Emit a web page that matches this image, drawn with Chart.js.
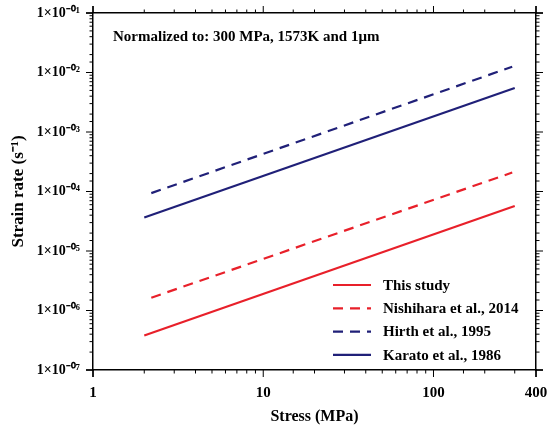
<!DOCTYPE html>
<html>
<head>
<meta charset="utf-8">
<script src="https://cdn.jsdelivr.net/npm/chart.js@4"></script>
<style>
  body { margin: 0; background: #fff; }
  #wrap { width: 550px; height: 430px; }
</style>
</head>
<body>
<div id="wrap"><canvas id="rateChart" width="550" height="430"></canvas></div>
<script>
// values (stress in MPa, strain rate in 1/s)
const seriesNames = ['This study', 'Nishihara et al., 2014', 'Hirth et al., 1995', 'Karato et al., 1986'];
const thisStudyStress = [2, 300];
const thisStudyRate = [3.8e-7, 5.7e-5];
const nishiharaStress = [2.2, 290];
const nishiharaRate = [1.64e-6, 2.08e-4];
const hirthStress = [2.2, 290];
const hirthRate = [9.4e-5, 1.25e-2];
const karatoStress = [2, 300];
const karatoRate = [3.65e-5, 5.5e-3];

const xTickValues = [1, 10, 100, 400];
const yTickExponents = [-7, -6, -5, -4, -3, -2, -1];
const yTickLabels = ['1×10⁻⁰⁷', '1×10⁻⁰⁶', '1×10⁻⁰⁵', '1×10⁻⁰⁴', '1×10⁻⁰³', '1×10⁻⁰²', '1×10⁻⁰¹'];
const note = 'Normalized to: 300 MPa, 1573K and 1μm';

const RED = '#e8202a';
const NAVY = '#202078';
const SERIF = "'Liberation Serif', 'Times New Roman', serif";

function pts(xs, ys) {
  return xs.map((x, i) => ({ x: x, y: ys[i] }));
}

function xLabel(v) {
  return xTickValues.indexOf(v) >= 0 ? String(v) : '';
}

function yLabel(v) {
  const e = Math.log10(v);
  const r = Math.round(e);
  if (Math.abs(e - r) > 1e-6) return '';
  const i = yTickExponents.indexOf(r);
  return i >= 0 ? yTickLabels[i] : '';
}

// outward tick marks on all four sides, longer at labelled values
const tickMarks = {
  id: 'tickMarks',
  afterDraw(chart) {
    const ctx = chart.ctx;
    const a = chart.chartArea;
    ctx.save();
    ctx.strokeStyle = '#000';
    ctx.lineWidth = 1;
    const sides = [
      { id: 'x', lab: v => xLabel(v) !== '' },
      { id: 'x2', lab: v => xLabel(v) !== '' },
      { id: 'y', lab: v => yLabel(v) !== '' },
      { id: 'y2', lab: v => yLabel(v) !== '' }
    ];
    sides.forEach(s => {
      const sc = chart.scales[s.id];
      sc.ticks.forEach(t => {
        const p = sc.getPixelForValue(t.value);
        const len = s.lab(t.value) ? 7 : 3.5;
        ctx.beginPath();
        if (s.id === 'x') { ctx.moveTo(p, sc.top); ctx.lineTo(p, sc.top + len); }
        if (s.id === 'x2') { ctx.moveTo(p, sc.bottom); ctx.lineTo(p, sc.bottom - len); }
        if (s.id === 'y') { ctx.moveTo(sc.right, p); ctx.lineTo(sc.right - len, p); }
        if (s.id === 'y2') { ctx.moveTo(sc.left, p); ctx.lineTo(sc.left + len, p); }
        ctx.stroke();
      });
    });
    // axis lines run a little past the corners
    const ext = 7;
    ctx.lineWidth = 1.5;
    ctx.beginPath();
    ctx.moveTo(a.left - ext, a.bottom); ctx.lineTo(a.left, a.bottom);
    ctx.moveTo(a.right, a.bottom); ctx.lineTo(a.right + ext, a.bottom);
    ctx.moveTo(a.left - ext, a.top); ctx.lineTo(a.left, a.top);
    ctx.moveTo(a.right, a.top); ctx.lineTo(a.right + ext, a.top);
    ctx.moveTo(a.left, a.bottom); ctx.lineTo(a.left, a.bottom + ext);
    ctx.moveTo(a.right, a.bottom); ctx.lineTo(a.right, a.bottom + ext);
    ctx.moveTo(a.left, a.top); ctx.lineTo(a.left, a.top - ext);
    ctx.moveTo(a.right, a.top); ctx.lineTo(a.right, a.top - ext);
    ctx.stroke();
    ctx.restore();
  }
};

// note text and legend inside the plot
const overlay = {
  id: 'overlay',
  afterDatasetsDraw(chart) {
    const ctx = chart.ctx;
    const area = chart.chartArea;
    ctx.save();
    ctx.fillStyle = '#000';
    ctx.font = 'bold 15px ' + SERIF;
    ctx.textBaseline = 'alphabetic';
    ctx.fillText(note, area.left + 20, area.top + 28);

    const x0 = area.left + 240;
    ctx.textBaseline = 'middle';
    chart.data.datasets.forEach((ds, i) => {
      const y = area.top + 272 + i * 23.3;
      ctx.beginPath();
      ctx.strokeStyle = ds.borderColor;
      ctx.lineWidth = ds.borderWidth;
      ctx.setLineDash(ds.borderDash || []);
      ctx.moveTo(x0, y);
      ctx.lineTo(x0 + 38, y);
      ctx.stroke();
      ctx.setLineDash([]);
      ctx.fillText(ds.label, x0 + 50, y + 1);
    });
    ctx.restore();
  }
};

function lineSet(label, data, color, dash) {
  return {
    label: label,
    data: data,
    borderColor: color,
    backgroundColor: color,
    borderWidth: 2.2,
    borderDash: dash,
    showLine: true,
    pointRadius: 0,
    fill: false
  };
}

const logAxis = (extra) => Object.assign({
  type: 'logarithmic',
  grid: { display: false, drawTicks: false },
  border: { display: true, color: '#000', width: 1.5 }
}, extra);

// fixed axis boxes so the plot area sits where the reference has it
function fixBox(size) {
  return s => {
    if (s.isHorizontal()) s.height = size; else s.width = size;
    s.paddingLeft = 0; s.paddingRight = 0; s.paddingTop = 0; s.paddingBottom = 0;
  };
}

new Chart(document.getElementById('rateChart').getContext('2d'), {
  type: 'scatter',
  data: {
    datasets: [
      lineSet(seriesNames[0], pts(thisStudyStress, thisStudyRate), RED, []),
      lineSet(seriesNames[1], pts(nishiharaStress, nishiharaRate), RED, [10, 7]),
      lineSet(seriesNames[2], pts(hirthStress, hirthRate), NAVY, [10, 7]),
      lineSet(seriesNames[3], pts(karatoStress, karatoRate), NAVY, [])
    ]
  },
  options: {
    responsive: false,
    animation: false,
    layout: { padding: 0 },
    plugins: { legend: { display: false }, tooltip: { enabled: false } },
    scales: {
      x: logAxis({
        position: 'bottom', min: 1, max: 400,
        ticks: { autoSkip: false, maxRotation: 0, padding: 14, color: '#000',
          font: { family: SERIF, size: 15, weight: 'bold' }, callback: v => xLabel(v) },
        title: { display: true, text: 'Stress (MPa)', color: '#000', padding: { top: 0, bottom: 4 },
          font: { family: SERIF, size: 16, weight: 'bold' } },
        afterFit: fixBox(60)
      }),
      x2: logAxis({
        position: 'top', min: 1, max: 400,
        ticks: { display: false },
        afterFit: fixBox(13)
      }),
      y: logAxis({
        position: 'left', min: 1e-7, max: 1e-1,
        ticks: { autoSkip: false, padding: 13, color: '#000',
          font: { family: SERIF, size: 14, weight: 'bold' }, callback: v => yLabel(v) },
        title: { display: true, text: 'Strain rate (s⁻¹)', color: '#000', padding: { top: 8, bottom: 0 },
          font: { family: SERIF, size: 17, weight: 'bold' } },
        afterFit: fixBox(93)
      }),
      y2: logAxis({
        position: 'right', min: 1e-7, max: 1e-1,
        ticks: { display: false },
        afterFit: fixBox(14)
      })
    }
  },
  plugins: [tickMarks, overlay]
});
</script>
</body>
</html>
